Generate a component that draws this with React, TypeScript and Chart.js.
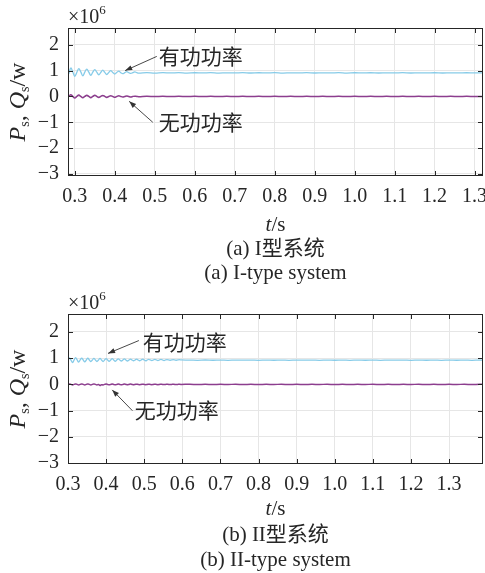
import React, { useEffect, useRef } from "react";
import { Chart, registerables } from "chart.js";

Chart.register(...registerables);

// ---------- Data (values in units of 10^6) ----------
const timesA = [
  0.285, 0.29, 0.295, 0.3, 0.305, 0.31, 0.315, 0.32, 0.325, 0.33, 0.335, 0.34,
  0.345, 0.35, 0.355, 0.36, 0.365, 0.37, 0.375, 0.38, 0.385, 0.39, 0.395, 0.4,
  0.405, 0.41, 0.415, 0.42, 0.425, 0.43, 0.435, 0.44, 0.445, 0.45, 0.455, 0.46,
  0.48, 0.5, 0.52, 0.54, 0.56, 0.58, 0.6, 0.62, 0.64, 0.66, 0.68, 0.7, 0.72, 0.74,
  0.76, 0.78, 0.8, 0.82, 0.84, 0.86, 0.88, 0.9, 0.92, 0.94, 0.96, 0.98, 1.0, 1.02,
  1.04, 1.06, 1.08, 1.1, 1.12, 1.14, 1.16, 1.18, 1.2, 1.22, 1.24, 1.26, 1.28, 1.3, 1.32,
];
const activeA = [
  0.88, 1.1, 0.95, 0.78, 0.93, 1.08, 0.95, 0.8, 0.94, 1.06, 0.94, 0.82,
  0.94, 1.04, 0.94, 0.84, 0.93, 1.02, 0.93, 0.85, 0.93, 1.0, 0.93, 0.87,
  0.93, 0.98, 0.92, 0.88, 0.92, 0.96, 0.92, 0.89, 0.92, 0.95, 0.92, 0.9,
  0.925, 0.905, 0.92, 0.91, 0.922, 0.906, 0.918, 0.912, 0.92, 0.905, 0.916, 0.91,
  0.921, 0.907, 0.917, 0.911, 0.92, 0.906, 0.915, 0.912, 0.919, 0.907, 0.916, 0.91,
  0.92, 0.906, 0.917, 0.911, 0.918, 0.908, 0.916, 0.91, 0.919, 0.907, 0.915, 0.911,
  0.918, 0.908, 0.916, 0.91, 0.917, 0.909, 0.914,
];
const reactiveA = [
  0.0, 0.07, 0.0, -0.06, 0.0, 0.06, 0.0, -0.05, 0.0, 0.05, 0.0, -0.05,
  0.0, 0.05, 0.0, -0.04, 0.0, 0.04, 0.0, -0.04, 0.0, 0.03, 0.0, -0.03,
  0.0, 0.03, 0.0, -0.02, 0.0, 0.02, 0.0, -0.02, 0.0, 0.01, 0.0, -0.01,
  0.006, -0.006, 0.004, -0.005, 0.006, -0.004, 0.005, -0.006, 0.004, -0.005, 0.006, -0.004,
  0.005, -0.006, 0.004, -0.005, 0.006, -0.004, 0.005, -0.006, 0.004, -0.005, 0.006, -0.004,
  0.005, -0.006, 0.004, -0.005, 0.006, -0.004, 0.005, -0.006, 0.004, -0.005, 0.006, -0.004,
  0.005, -0.006, 0.004, -0.005, 0.006, -0.004, 0.0,
];

const timesB = [
  0.3, 0.304, 0.308, 0.312, 0.316, 0.32, 0.324, 0.328, 0.332, 0.336, 0.34, 0.344,
  0.348, 0.352, 0.356, 0.36, 0.364, 0.368, 0.372, 0.376, 0.38, 0.384, 0.388, 0.392,
  0.396, 0.4, 0.404, 0.408, 0.412, 0.416, 0.42, 0.424, 0.428, 0.432, 0.436, 0.44,
  0.444, 0.448, 0.452, 0.456, 0.46, 0.464, 0.468, 0.472, 0.476, 0.48, 0.484, 0.488,
  0.492, 0.496, 0.5, 0.504, 0.508, 0.512, 0.516, 0.52, 0.524, 0.528, 0.532, 0.536,
  0.54, 0.544, 0.548, 0.552, 0.556, 0.56, 0.564, 0.568, 0.572, 0.576, 0.58, 0.584,
  0.588, 0.592, 0.596,
  0.62, 0.64, 0.66, 0.68, 0.7, 0.72, 0.74, 0.76, 0.78, 0.8, 0.82, 0.84, 0.86, 0.88,
  0.9, 0.92, 0.94, 0.96, 0.98, 1.0, 1.02, 1.04, 1.06, 1.08, 1.1, 1.12, 1.14, 1.16,
  1.18, 1.2, 1.22, 1.24, 1.26, 1.28, 1.3, 1.32, 1.34, 1.36, 1.38, 1.39,
];
const activeB = [
  0.9, 1.01, 0.92, 0.83, 0.93, 1.02, 0.93, 0.85, 0.93, 1.0, 0.93, 0.86,
  0.93, 1.0, 0.93, 0.87, 0.93, 0.99, 0.93, 0.87, 0.93, 0.99, 0.93, 0.87,
  0.93, 0.98, 0.93, 0.88, 0.93, 0.98, 0.93, 0.88, 0.93, 0.97, 0.93, 0.89,
  0.93, 0.97, 0.93, 0.89, 0.93, 0.96, 0.93, 0.9, 0.93, 0.96, 0.93, 0.9,
  0.93, 0.96, 0.93, 0.9, 0.93, 0.95, 0.93, 0.91, 0.93, 0.95, 0.93, 0.91,
  0.93, 0.95, 0.93, 0.91, 0.93, 0.94, 0.93, 0.92, 0.93, 0.94, 0.93, 0.92,
  0.93, 0.94, 0.93,
  0.926, 0.918, 0.928, 0.92, 0.925, 0.917, 0.927, 0.921, 0.924, 0.918, 0.926, 0.92,
  0.925, 0.917, 0.927, 0.921, 0.924, 0.918, 0.926, 0.92, 0.925, 0.918, 0.927, 0.92,
  0.924, 0.917, 0.926, 0.921, 0.925, 0.918, 0.927, 0.92, 0.924, 0.918, 0.926, 0.92,
  0.925, 0.918, 0.926, 0.921,
];
const reactiveB = [
  0.0, 0.02, 0.0, -0.02, 0.0, 0.02, 0.0, -0.02, 0.0, 0.02, 0.0, -0.02,
  0.0, 0.02, 0.0, -0.02, 0.0, 0.02, 0.0, -0.02, 0.0, -0.04, -0.01, -0.02,
  0.0, 0.015, 0.0, -0.015, 0.0, 0.015, 0.0, -0.015, 0.0, 0.015, 0.0, -0.015,
  0.0, 0.012, 0.0, -0.012, 0.0, 0.012, 0.0, -0.012, 0.0, 0.01, 0.0, -0.01,
  0.0, 0.01, 0.0, -0.01, 0.0, 0.01, 0.0, -0.01, 0.0, 0.01, 0.0, -0.01,
  0.0, 0.008, 0.0, -0.008, 0.0, 0.008, 0.0, -0.008, 0.0, 0.008, 0.0, -0.008,
  0.0, 0.006, 0.0,
  0.005, -0.005, 0.004, -0.006, 0.005, -0.004, 0.006, -0.005, 0.004, -0.006, 0.005, -0.004,
  0.006, -0.005, 0.004, -0.006, 0.005, -0.004, 0.006, -0.005, 0.004, -0.006, 0.005, -0.004,
  0.006, -0.005, 0.004, -0.006, 0.005, -0.004, 0.006, -0.005, 0.004, -0.006, 0.005, -0.004,
  0.006, -0.005, 0.004, 0.0,
];

const yTickValues = [-3, -2, -1, 0, 1, 2];
const seriesNames = ["有功功率", "无功功率"];

// ---------- Styling ----------
const SERIF = "'Liberation Serif', 'Times New Roman', serif";
const CJK = "'Noto Sans CJK SC'";
const INK = "#262626";
const CYAN = "#86cbe8";
const PURPLE = "#8c3d8e";

type Panel = {
  times: number[];
  active: number[];
  reactive: number[];
  xMin: number;
  xMax: number;
  yMin: number;
  yMax: number;
  height: number;
  top: number;
  areaBottom: number;
  captionCn: string;
  captionEn: string;
  textY: number[];
  ann: {
    text: string;
    tx: number; ty: number;
    sx: number; sy: number;
    ex: number; ey: number;
  }[];
};

const panels: Panel[] = [
  {
    times: timesA, active: activeA, reactive: reactiveA,
    xMin: 0.283, xMax: 1.321, yMin: -3.08, yMax: 2.65,
    height: 286, top: 0, areaBottom: 176,
    captionCn: "(a) I型系统", captionEn: "(a) I-type system",
    textY: [225, 249, 273],
    ann: [
      { text: seriesNames[0], tx: 0.51, ty: 1.58, sx: 0.505, sy: 1.55, ex: 0.426, ey: 1.0 },
      { text: seriesNames[1], tx: 0.51, ty: -1.0, sx: 0.495, sy: -1.0, ex: 0.436, ey: -0.19 },
    ],
  },
  {
    times: timesB, active: activeB, reactive: reactiveB,
    xMin: 0.3, xMax: 1.389, yMin: -3.03, yMax: 2.68,
    height: 287, top: 286, areaBottom: 178,
    captionCn: "(b) II型系统", captionEn: "(b) II-type system",
    textY: [223, 249, 274],
    ann: [
      { text: seriesNames[0], tx: 0.496, ty: 1.6, sx: 0.486, sy: 1.67, ex: 0.405, ey: 1.18 },
      { text: seriesNames[1], tx: 0.475, ty: -0.97, sx: 0.469, sy: -1.0, ex: 0.416, ey: -0.21 },
    ],
  },
];

function drawArrow(ctx: CanvasRenderingContext2D, x1: number, y1: number, x2: number, y2: number) {
  ctx.beginPath();
  ctx.moveTo(x1, y1);
  ctx.lineTo(x2, y2);
  ctx.stroke();
  const a = Math.atan2(y2 - y1, x2 - x1);
  const L = 7, W = 2.6;
  ctx.beginPath();
  ctx.moveTo(x2, y2);
  ctx.lineTo(x2 - L * Math.cos(a) + W * Math.sin(a), y2 - L * Math.sin(a) - W * Math.cos(a));
  ctx.lineTo(x2 - L * Math.cos(a) - W * Math.sin(a), y2 - L * Math.sin(a) + W * Math.cos(a));
  ctx.closePath();
  ctx.fill();
}

type Seg = { t: string; font: string; dy?: number };
function drawSegs(ctx: CanvasRenderingContext2D, segs: Seg[], x: number, y: number, align: "center" | "left") {
  let total = 0;
  segs.forEach((s) => { ctx.font = s.font; total += ctx.measureText(s.t).width; });
  let cx = align === "center" ? x - total / 2 : x;
  ctx.textAlign = "left";
  segs.forEach((s) => {
    ctx.font = s.font;
    ctx.fillText(s.t, cx, y + (s.dy || 0));
    cx += ctx.measureText(s.t).width;
  });
}

function makeDecor(p: Panel) {
  return {
    id: "decor",
    afterDraw(chart: any) {
      const { ctx, chartArea: a, scales } = chart;
      const xs = scales.x, ys = scales.y;
      ctx.save();
      ctx.strokeStyle = INK;
      ctx.fillStyle = INK;
      ctx.lineWidth = 1;
      ctx.strokeRect(a.left + 0.5, a.top + 0.5, a.right - a.left - 1, a.bottom - a.top - 1);
      ctx.beginPath();
      xs.ticks.forEach((t: any) => {
        const x = Math.round(xs.getPixelForValue(t.value)) + 0.5;
        ctx.moveTo(x, a.bottom); ctx.lineTo(x, a.bottom - 5);
        ctx.moveTo(x, a.top); ctx.lineTo(x, a.top + 5);
      });
      ys.ticks.forEach((t: any) => {
        const y = Math.round(ys.getPixelForValue(t.value)) + 0.5;
        ctx.moveTo(a.left, y); ctx.lineTo(a.left + 5, y);
        ctx.moveTo(a.right, y); ctx.lineTo(a.right - 5, y);
      });
      ctx.stroke();

      ctx.textBaseline = "alphabetic";
      drawSegs(ctx, [
        { t: "×10", font: `20px ${SERIF}` },
        { t: "6", font: `13px ${SERIF}`, dy: -9 },
      ], a.left, a.top - 5, "left");

      ctx.save();
      ctx.translate(25, (a.top + a.bottom) / 2);
      ctx.rotate(-Math.PI / 2);
      drawSegs(ctx, [
        { t: "P", font: `italic 24px ${SERIF}` },
        { t: "s", font: `14px ${SERIF}`, dy: 4 },
        { t: ", ", font: `24px ${SERIF}` },
        { t: "Q", font: `italic 24px ${SERIF}` },
        { t: "s", font: `14px ${SERIF}`, dy: 4 },
        { t: "/w", font: `24px ${SERIF}` },
      ], 0, 0, "center");
      ctx.restore();

      const cx = (a.left + a.right) / 2;
      ctx.textBaseline = "middle";
      drawSegs(ctx, [
        { t: "t", font: `italic 21px ${SERIF}` },
        { t: "/s", font: `21px ${SERIF}` },
      ], cx, p.textY[0], "center");
      ctx.textAlign = "center";
      ctx.font = `21px ${SERIF}, ${CJK}`;
      ctx.fillText(p.captionCn, cx, p.textY[1]);
      ctx.fillText(p.captionEn, cx, p.textY[2]);

      ctx.lineWidth = 0.9;
      p.ann.forEach((n) => {
        ctx.strokeStyle = "#333";
        ctx.fillStyle = "#333";
        drawArrow(ctx,
          xs.getPixelForValue(n.sx), ys.getPixelForValue(n.sy),
          xs.getPixelForValue(n.ex), ys.getPixelForValue(n.ey));
        ctx.fillStyle = INK;
        ctx.font = `21px ${CJK}`;
        ctx.textAlign = "left";
        ctx.textBaseline = "middle";
        ctx.fillText(n.text, xs.getPixelForValue(n.tx), ys.getPixelForValue(n.ty));
      });
      ctx.restore();
    },
  };
}

function PanelChart({ p }: { p: Panel }) {
  const ref = useRef<HTMLCanvasElement | null>(null);
  useEffect(() => {
    if (!ref.current) return;
    const toPts = (vals: number[]) => p.times.map((t, i) => ({ x: t, y: vals[i] }));
    const chart = new Chart(ref.current, {
      type: "line",
      data: {
        datasets: [
          { label: seriesNames[0], data: toPts(p.active), borderColor: CYAN, borderWidth: 1.3, pointRadius: 0, tension: 0.4 },
          { label: seriesNames[1], data: toPts(p.reactive), borderColor: PURPLE, borderWidth: 1.5, pointRadius: 0, tension: 0.4 },
        ],
      },
      options: {
        animation: false,
        responsive: false,
        devicePixelRatio: 1,
        layout: { padding: { left: 8, right: 2, top: 28, bottom: 0 } },
        plugins: { legend: { display: false }, tooltip: { enabled: false } },
        scales: {
          x: {
            type: "linear",
            min: p.xMin,
            max: p.xMax,
            border: { display: false },
            grid: { color: "#e6e6e6", drawTicks: false, lineWidth: 1 },
            ticks: {
              stepSize: 0.1,
              includeBounds: false,
              autoSkip: false,
              maxRotation: 0,
              padding: 9,
              color: INK,
              font: { family: SERIF, size: 20 },
              callback: (v: any) => Number(v).toFixed(1),
            },
            afterFit: (s: any) => {
              s.height = p.height - p.areaBottom;
              s.paddingLeft = 0;
              s.paddingRight = 0;
            },
          },
          y: {
            min: p.yMin,
            max: p.yMax,
            border: { display: false },
            grid: { color: "#e6e6e6", drawTicks: false, lineWidth: 1 },
            afterBuildTicks: (s: any) => {
              s.ticks = yTickValues.map((v) => ({ value: v }));
            },
            ticks: {
              padding: 9,
              color: INK,
              font: { family: SERIF, size: 20 },
              callback: (v: any) => (Number(v) < 0 ? "\u2212" + Math.abs(Number(v)) : String(v)),
            },
            afterFit: (s: any) => {
              s.width = 60;
              s.paddingTop = 0;
              s.paddingBottom = 0;
            },
          },
        },
      },
      plugins: [makeDecor(p)],
    } as any);
    return () => chart.destroy();
  }, [p]);
  return (
    <canvas
      ref={ref}
      width={485}
      height={p.height}
      style={{ position: "absolute", left: 0, top: p.top, width: 485, height: p.height }}
    />
  );
}

export default function App() {
  return (
    <div style={{ position: "absolute", left: 0, top: 0, width: 485, height: 573, background: "#fff" }}>
      {panels.map((p, i) => (
        <PanelChart key={i} p={p} />
      ))}
    </div>
  );
}
